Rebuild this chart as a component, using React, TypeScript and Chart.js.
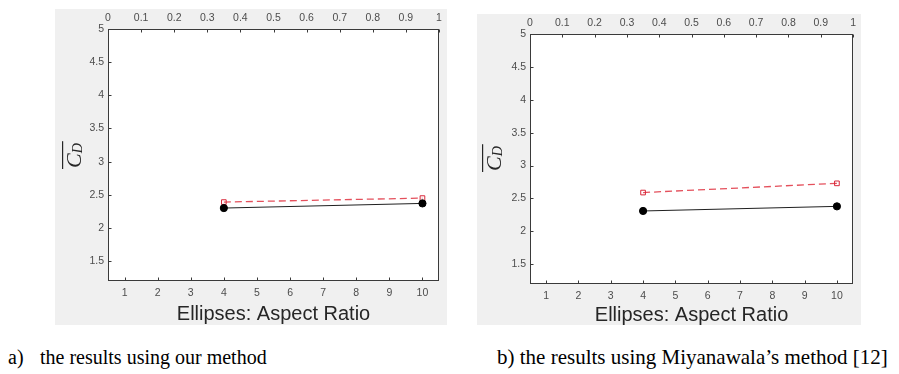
import React, { useEffect, useRef } from "react";
import { Chart, registerables } from "chart.js";

Chart.register(...registerables);

// ---------- data ----------
const aspectRatios = [4, 10];
const ourMethodBlack = [2.30, 2.37];
const ourMethodRed = [2.39, 2.45];
const miyanawalaBlack = [2.31, 2.38];
const miyanawalaRed = [2.59, 2.73];

const bottomTicks = [1, 2, 3, 4, 5, 6, 7, 8, 9, 10];
const topTicks = [0, 0.1, 0.2, 0.3, 0.4, 0.5, 0.6, 0.7, 0.8, 0.9, 1];
const yTicks = [1.5, 2, 2.5, 3, 3.5, 4, 4.5, 5];

const xTitle = "Ellipses: Aspect Ratio";
const yTitleMain = "C";
const yTitleSub = "D";
const captionA1 = "a)";
const captionA2 = "the results using our method";
const captionB = "b) the results using Miyanawala\u2019s method [12]";

const TICK_COLOR = "#4d4d4d";
const AXIS_COLOR = "#3a3a3a";

const framePlugin = {
  id: "frame",
  beforeDraw(chart: any) {
    const { ctx, chartArea: a } = chart;
    ctx.save();
    ctx.fillStyle = "#ffffff";
    ctx.fillRect(a.left, a.top, a.right - a.left, a.bottom - a.top);
    ctx.restore();
  },
  afterDraw(chart: any, _args: any, opts: any) {
    const { ctx, chartArea: a, scales } = chart;
    ctx.save();
    ctx.strokeStyle = AXIS_COLOR;
    ctx.lineWidth = 1;
    const L = Math.round(a.left) + 0.5;
    const R = Math.round(a.right) - 0.5;
    const T = Math.round(a.top) + 0.5;
    const B = Math.round(a.bottom) - 0.5;
    ctx.strokeRect(L, T, R - L, B - T);
    const tl = 3;
    ctx.beginPath();
    for (const v of bottomTicks) {
      const x = Math.round(scales.x.getPixelForValue(v)) + 0.5;
      ctx.moveTo(x, B);
      ctx.lineTo(x, B - tl);
    }
    for (const v of topTicks) {
      const x = Math.round(scales.x2.getPixelForValue(v)) + 0.5;
      ctx.moveTo(x, T);
      ctx.lineTo(x, T + tl);
    }
    for (const v of yTicks) {
      const y = Math.round(scales.y.getPixelForValue(v)) + 0.5;
      ctx.moveTo(L, y);
      ctx.lineTo(L + tl, y);
    }
    ctx.stroke();

    // y-axis title: overlined italic C with subscript D, rotated
    ctx.translate(opts.bx, opts.by);
    ctx.rotate(-Math.PI / 2);
    ctx.fillStyle = "#262626";
    ctx.textAlign = "left";
    ctx.textBaseline = "alphabetic";
    ctx.font = 'italic 22px "Liberation Serif"';
    ctx.fillText(yTitleMain, 1, 0);
    const cw = ctx.measureText(yTitleMain).width;
    ctx.font = 'italic 14px "Liberation Serif"';
    ctx.fillText(yTitleSub, 1 + cw, 1);
    const dw = ctx.measureText(yTitleSub).width;
    ctx.fillRect(0, -19, cw + dw + 3, 1.2);
    ctx.restore();
  },
};

function makeConfig(
  black: number[],
  red: number[],
  padRight: number,
  bottomH: number,
  titlePadBottom: number,
  bx: number,
  by: number
): any {
  const tickFont = { family: '"Liberation Sans", Arial, sans-serif', size: 10.5 };
  return {
    type: "line",
    data: {
      datasets: [
        {
          label: "black",
          data: aspectRatios.map((x, i) => ({ x, y: black[i] })),
          borderColor: "#202020",
          borderWidth: 1,
          pointRadius: 3.6,
          pointBackgroundColor: "#000000",
          pointBorderColor: "#000000",
          pointBorderWidth: 1,
          xAxisID: "x",
          yAxisID: "y",
        },
        {
          label: "red",
          data: aspectRatios.map((x, i) => ({ x, y: red[i] })),
          borderColor: "#e4505c",
          borderWidth: 1.3,
          borderDash: [7, 4],
          pointStyle: "rect",
          pointRadius: 3.3,
          pointBackgroundColor: "rgba(255,255,255,0)",
          pointBorderColor: "#d8283a",
          pointBorderWidth: 1,
          xAxisID: "x",
          yAxisID: "y",
        },
      ],
    },
    options: {
      animation: false,
      responsive: false,
      maintainAspectRatio: false,
      events: [],
      layout: { padding: { left: 0, right: padRight, top: 0, bottom: 0 } },
      plugins: {
        legend: { display: false },
        tooltip: { enabled: false },
        title: { display: false },
        frame: { bx, by },
      },
      scales: {
        x: {
          type: "linear",
          position: "bottom",
          min: 0.5,
          max: 10.5,
          afterBuildTicks: (s: any) => {
            s.ticks = bottomTicks.map((v) => ({ value: v }));
          },
          afterFit: (s: any) => {
            s.height = bottomH;
          },
          grid: { display: false, drawTicks: false },
          border: { display: false },
          ticks: {
            font: tickFont,
            color: TICK_COLOR,
            padding: 6,
            maxRotation: 0,
            autoSkip: false,
            callback: (v: any) => String(v),
          },
          title: {
            display: true,
            text: xTitle,
            color: "#262626",
            font: { family: '"Liberation Sans", Arial, sans-serif', size: 20, lineHeight: 1 },
            padding: { top: 0, bottom: titlePadBottom },
          },
        },
        x2: {
          type: "linear",
          position: "top",
          min: 0,
          max: 1,
          afterBuildTicks: (s: any) => {
            s.ticks = topTicks.map((v) => ({ value: v }));
          },
          afterFit: (s: any) => {
            s.height = 20;
          },
          grid: { display: false, drawTicks: false },
          border: { display: false },
          ticks: {
            font: tickFont,
            color: TICK_COLOR,
            padding: 5,
            maxRotation: 0,
            autoSkip: false,
            callback: (v: any) => String(v),
          },
        },
        y: {
          type: "linear",
          position: "left",
          min: 1.2,
          max: 5,
          afterBuildTicks: (s: any) => {
            s.ticks = yTicks.map((v) => ({ value: v }));
          },
          afterFit: (s: any) => {
            s.width = 53;
          },
          grid: { display: false, drawTicks: false },
          border: { display: false },
          ticks: {
            font: tickFont,
            color: TICK_COLOR,
            padding: 4,
            autoSkip: false,
            callback: (v: any) => String(v),
          },
        },
      },
    },
    plugins: [framePlugin],
  };
}

function Panel(props: {
  left: number;
  top: number;
  width: number;
  height: number;
  config: any;
}) {
  const ref = useRef<HTMLCanvasElement | null>(null);
  useEffect(() => {
    if (!ref.current) return;
    const chart = new Chart(ref.current, props.config);
    return () => chart.destroy();
  }, []);
  return (
    <canvas
      ref={ref}
      width={props.width}
      height={props.height}
      style={{
        position: "absolute",
        left: props.left,
        top: props.top,
        width: props.width,
        height: props.height,
        background: "#f0f0f0",
      }}
    />
  );
}

export default function App() {
  const captionStyle: React.CSSProperties = {
    position: "absolute",
    fontFamily: '"Liberation Serif", "Times New Roman", serif',
    color: "#000",
    whiteSpace: "nowrap",
  };
  const capA: React.CSSProperties = { ...captionStyle, top: 346, fontSize: 20, lineHeight: "22px" };
  const capB: React.CSSProperties = { ...captionStyle, top: 346, fontSize: 21, lineHeight: "22px" };
  return (
    <div
      style={{
        position: "absolute",
        left: 0,
        top: 0,
        width: 899,
        height: 374,
        background: "#ffffff",
        overflow: "hidden",
      }}
    >
      <Panel
        left={55}
        top={9}
        width={392}
        height={316}
        config={makeConfig(ourMethodBlack, ourMethodRed, 8, 44, 1, 26, 160)}
      />
      <Panel
        left={477}
        top={14}
        width={384}
        height={311}
        config={makeConfig(miyanawalaBlack, miyanawalaRed, 4, 41, 0, 24, 158)}
      />
      <div style={{ ...capA, left: 8 }}>{captionA1}</div>
      <div style={{ ...capA, left: 40 }}>{captionA2}</div>
      <div style={{ ...capB, left: 497 }}>{captionB}</div>
    </div>
  );
}
